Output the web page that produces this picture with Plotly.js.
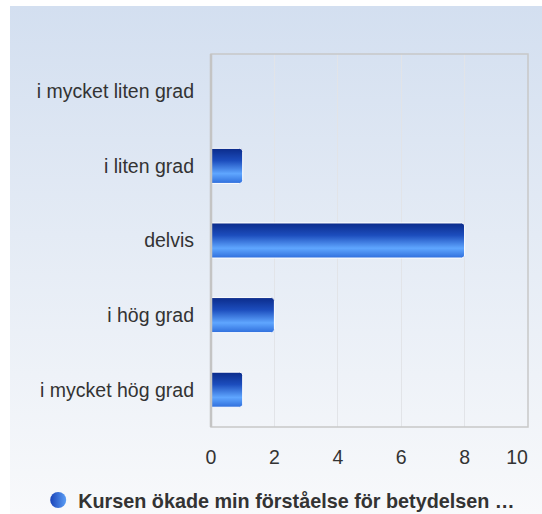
<!DOCTYPE html>
<html>
<head>
<meta charset="utf-8">
<script src="https://cdn.plot.ly/plotly-3.0.1.min.js"></script>
<style>
  html, body { margin: 0; padding: 0; background: #ffffff; }
  #bg { position: absolute; left: 10px; top: 6px; width: 532px; height: 508px;
        background: linear-gradient(to bottom, #d3dff0 0%, #e4ebf5 45%, #f8f9fb 100%); }
  #chart { position: absolute; left: 0; top: 0; width: 542px; height: 514px; }
</style>
</head>
<body>
<div id="bg"></div>
<div id="chart"></div>
<script>
const categories = ["i mycket liten grad", "i liten grad", "delvis", "i hög grad", "i mycket hög grad"];
const values = [0, 1, 8, 2, 1];
const seriesName = "Kursen ökade min förståelse för betydelsen …";
const xTicks = [0, 2, 4, 6, 8, 10];

const font = "Liberation Sans, Arial, sans-serif";

const traces = [
  {
    type: "bar",
    orientation: "h",
    y: categories,
    x: values,
    name: seriesName,
    showlegend: false,
    marker: { color: "#2a62d6", line: { color: "#ffffff", width: 1 } },
    hoverinfo: "none"
  },
  {
    type: "scatter",
    mode: "markers",
    x: [null],
    y: [categories[0]],
    name: seriesName,
    showlegend: true,
    marker: { size: 16, color: "#1a43b8", symbol: "circle",
              gradient: { type: "horizontal", color: "#5b9ef5" }, line: { width: 0 } },
    hoverinfo: "none"
  }
];

const layout = {
  width: 542,
  height: 514,
  paper_bgcolor: "rgba(0,0,0,0)",
  plot_bgcolor: "rgba(0,0,0,0)",
  margin: { l: 211, r: 14, t: 54, b: 87, pad: 0 },
  font: { family: font, size: 19.5, color: "#333333" },
  bargap: 0.53,
  barcornerradius: 3,
  xaxis: {
    range: [0, 10],
    tickvals: xTicks,
    ticktext: xTicks.map(String),
    showgrid: true,
    gridcolor: "#e2e4e8",
    gridwidth: 1,
    zeroline: false,
    showline: false,
    ticks: "",
    ticklabelstandoff: 16,
    tickfont: { family: font, size: 19.5, color: "#333333" },
    fixedrange: true
  },
  yaxis: {
    type: "category",
    autorange: "reversed",
    showgrid: false,
    zeroline: false,
    showline: false,
    ticks: "",
    ticklabelstandoff: 16,
    tickfont: { family: font, size: 19.5, color: "#333333" },
    fixedrange: true
  },
  shapes: [
    { type: "rect", xref: "paper", yref: "paper", x0: 0, x1: 1, y0: 0, y1: 1,
      line: { color: "#c8c8c8", width: 1.5 }, fillcolor: "rgba(0,0,0,0)", layer: "above" },
    { type: "line", xref: "paper", yref: "paper", x0: 0, x1: 0, y0: 0, y1: 1,
      line: { color: "#c4c4c4", width: 2.5 }, layer: "above" }
  ],
  showlegend: true,
  legend: {
    orientation: "h",
    xref: "container", yref: "container",
    x: 0.0705, xanchor: "left",
    y: 0.027, yanchor: "middle",
    bgcolor: "rgba(0,0,0,0)",
    font: { family: font, size: 19.8, color: "#333333", weight: "bold" },
    itemwidth: 30
  }
};

Plotly.newPlot("chart", traces, layout, { displayModeBar: false, staticPlot: true }).then(function (gd) {
  const svg = gd.querySelector("svg.main-svg");
  const ns = "http://www.w3.org/2000/svg";
  let defs = svg.querySelector("defs");
  if (!defs) { defs = document.createElementNS(ns, "defs"); svg.insertBefore(defs, svg.firstChild); }
  const grad = document.createElementNS(ns, "linearGradient");
  grad.setAttribute("id", "barGrad");
  grad.setAttribute("x1", "0"); grad.setAttribute("y1", "0");
  grad.setAttribute("x2", "0"); grad.setAttribute("y2", "1");
  [["0%", "#0b2b8a"], ["35%", "#1c4dbd"], ["72%", "#5fa6ff"], ["100%", "#2f6edc"]].forEach(function (s) {
    const st = document.createElementNS(ns, "stop");
    st.setAttribute("offset", s[0]); st.setAttribute("stop-color", s[1]);
    grad.appendChild(st);
  });
  defs.appendChild(grad);
  gd.querySelectorAll(".barlayer .point path").forEach(function (p) {
    p.style.fill = "url(#barGrad)";
  });
  // keep the last x tick label inside the frame, as in the reference
  const xt = gd.querySelectorAll("g.xtick text");
  if (xt.length) {
    const last = xt[xt.length - 1];
    const cx = parseFloat(last.getAttribute("x")) || 0;
    last.setAttribute("x", cx - 11);
  }
});
</script>
</body>
</html>
